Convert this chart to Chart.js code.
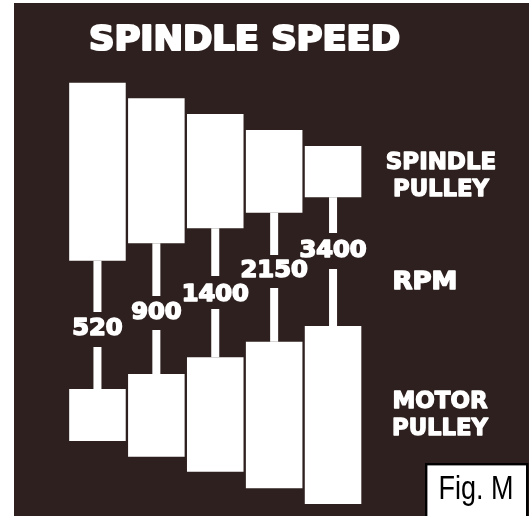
<!DOCTYPE html>
<html>
<head>
<meta charset="utf-8">
<script src="https://cdn.jsdelivr.net/npm/chart.js@4/dist/chart.umd.min.js"></script>
<style>
  html, body { margin: 0; padding: 0; background: #ffffff; }
  #wrap { width: 531px; height: 516px; }
</style>
</head>
<body>
<div id="wrap"><canvas id="c" width="531" height="516"></canvas></div>
<script>
// ---- Data (diagram units; y grows downward) ----
const steps = ['1', '2', '3', '4', '5'];
const rpmLabels = ['520', '900', '1400', '2150', '3400'];
const spindleTop = [82.7, 98.3, 114, 130, 146];
const spindleBottom = [260.7, 243.3, 228.3, 212.7, 197.3];
const motorTop = [389, 374, 357.3, 341.7, 326];
const motorBottom = [441, 456.7, 471.7, 488.3, 504];
const upperStemEnd = [312, 296, 276, 255, 233];
const lowerStemStart = [347, 330, 309, 288, 269];
const rpmLabelLevel = [329, 313, 295, 271.5, 251.5];

const BG = '#2e201e';
const WHITE = '#ffffff';

function pairs(a, b) { return a.map((v, i) => [v, b[i]]); }

function drawText(ctx, text, cx, cy, font, stretch, color, heavy) {
  ctx.save();
  ctx.font = font;
  ctx.fillStyle = color;
  ctx.strokeStyle = color;
  ctx.lineJoin = 'round';
  ctx.textAlign = 'center';
  ctx.textBaseline = 'middle';
  ctx.translate(cx, cy);
  ctx.scale(stretch, 1);
  ctx.fillText(text, 0, 0);
  if (heavy) { ctx.lineWidth = heavy; ctx.strokeText(text, 0, 0); }
  ctx.restore();
}

const bgPlugin = {
  id: 'bg',
  beforeDraw(chart) {
    const ctx = chart.ctx;
    ctx.save();
    ctx.fillStyle = '#ffffff';
    ctx.fillRect(0, 0, chart.width, chart.height);
    ctx.fillStyle = BG;
    ctx.fillRect(14, 3, 515, 513);
    ctx.restore();
  }
};

const textPlugin = {
  id: 'texts',
  afterDatasetsDraw(chart) {
    const ctx = chart.ctx;
    const xs = chart.scales.x, ys = chart.scales.y;
    const bold = (s) => 'bold ' + s + 'px "DejaVu Sans", "Liberation Sans", sans-serif';
    // RPM values
    rpmLabels.forEach((t, i) => {
      drawText(ctx, t, xs.getPixelForValue(i), ys.getPixelForValue(rpmLabelLevel[i]), bold(23), 1.05, WHITE, 1.6);
    });
    // Title
    drawText(ctx, 'SPINDLE SPEED', 244.5, 41.5, bold(33), 1.07, WHITE, 2.2);
    // Side labels
    drawText(ctx, 'SPINDLE', 441, 163, bold(22.5), 1.02, WHITE, 1.3);
    drawText(ctx, 'PULLEY', 441, 190, bold(22.5), 1.01, WHITE, 1.3);
    drawText(ctx, 'RPM', 425, 282.5, bold(24.5), 1.06, WHITE, 1.5);
    drawText(ctx, 'MOTOR', 440, 402.5, bold(22.5), 1.02, WHITE, 1.3);
    drawText(ctx, 'PULLEY', 440, 429, bold(22.5), 1.01, WHITE, 1.3);
    // Fig. M box
    ctx.save();
    ctx.fillStyle = '#ffffff';
    ctx.fillRect(425, 463, 103, 55);
    ctx.strokeStyle = '#000000';
    ctx.lineWidth = 2.4;
    ctx.strokeRect(426.2, 464.2, 101, 55);
    ctx.font = '33px "Liberation Sans Narrow", "Liberation Sans", sans-serif';
    const w = ctx.measureText('Fig. M').width;
    ctx.restore();
    drawText(ctx, 'Fig. M', 476, 490, '33px "Liberation Sans Narrow", "Liberation Sans", sans-serif', 75 / w, '#000000', 0);
  }
};

const barCommon = {
  backgroundColor: WHITE,
  borderWidth: 0,
  grouped: false
};

new Chart(document.getElementById('c'), {
  type: 'bar',
  data: {
    labels: steps,
    datasets: [
      Object.assign({ label: 'Spindle pulley', data: pairs(spindleTop, spindleBottom), barPercentage: 0.96, categoryPercentage: 1 }, barCommon),
      Object.assign({ label: 'Motor pulley', data: pairs(motorTop, motorBottom), barPercentage: 0.96, categoryPercentage: 1 }, barCommon),
      Object.assign({ label: 'Upper stem', data: pairs(spindleBottom, upperStemEnd), barPercentage: 0.136, categoryPercentage: 1 }, barCommon),
      Object.assign({ label: 'Lower stem', data: pairs(lowerStemStart, motorTop), barPercentage: 0.136, categoryPercentage: 1 }, barCommon)
    ]
  },
  options: {
    responsive: false,
    animation: false,
    layout: { padding: { left: 68, right: 168.5, top: 0, bottom: 0 } },
    scales: {
      x: { display: false, offset: true },
      y: { display: false, min: 0, max: 516, reverse: true }
    },
    plugins: {
      legend: { display: false },
      tooltip: { enabled: false },
      title: { display: false }
    }
  },
  plugins: [bgPlugin, textPlugin]
});
</script>
</body>
</html>
